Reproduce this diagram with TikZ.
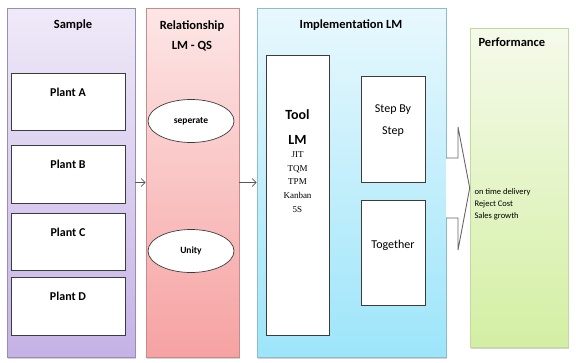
\documentclass[tikz,border=0pt]{standalone}
\usepackage{fontspec}
\setmainfont{Carlito}
\newfontfamily\serifnum{Liberation Serif}
\usetikzlibrary{positioning,shapes.geometric,shadows,arrows.meta}

\definecolor{samTop}{HTML}{EFEAF8}
\definecolor{samBot}{HTML}{C5B2E6}
\definecolor{samLine}{HTML}{9A8DB3}
\definecolor{relTop}{HTML}{FDE6E6}
\definecolor{relBot}{HTML}{F6A2A2}
\definecolor{relLine}{HTML}{C88A8A}
\definecolor{impTop}{HTML}{E8F8FD}
\definecolor{impBot}{HTML}{9DE5FA}
\definecolor{impLine}{HTML}{8CBCCC}
\definecolor{perTop}{HTML}{F5FAEA}
\definecolor{perBot}{HTML}{D3EFA3}
\definecolor{perLine}{HTML}{C2D8A0}
\definecolor{boxLine}{HTML}{3C3C3C}

\begin{document}
\begin{tikzpicture}[
    x=1pt, y=-1pt,
    panel/.style      = {rectangle, draw, line width=0.6pt, inner sep=0pt,
                         drop shadow={shadow xshift=1.2pt, shadow yshift=-1.6pt,
                                      opacity=0.35}},
    whitebox/.style   = {rectangle, draw=boxLine, fill=white, line width=0.7pt,
                         inner sep=0pt},
    oval/.style       = {ellipse, draw=boxLine, fill=white, line width=0.7pt,
                         minimum width=86pt, minimum height=43pt, inner sep=0pt,
                         font=\fontsize{9.5}{11}\selectfont\bfseries},
    head/.style       = {font=\fontsize{12.5}{20}\selectfont\bfseries, align=center},
    plantlbl/.style   = {font=\fontsize{12}{14}\selectfont\bfseries},
    toollbl/.style    = {font=\fontsize{14}{16}\selectfont\bfseries},
    toollist/.style   = {font=\serifnum\fontsize{9}{13.7}\selectfont, align=center,
                         inner sep=0pt},
    plain/.style      = {font=\fontsize{12}{22}\selectfont, align=center},
    flow/.style       = {-{Straight Barb[length=4pt, width=8pt]},
                         draw=gray!70!black, line width=0.7pt},
    blockarr/.style   = {draw=gray!80!black, fill=white, line width=0.9pt,
                         line join=miter},
]
\useasboundingbox (0,0) rectangle (576,362);

% ============================================================
%  PANELS
%   sample : x 7..135     relation : x 146..239
%   impl   : x 257..446   perf     : x 470..568
% ============================================================
\node[panel, draw=samLine, top color=samTop, bottom color=samBot,
      minimum width=128pt, minimum height=349pt] (sample) at (71,182.5) {};
\node[panel, draw=relLine, top color=relTop, bottom color=relBot,
      minimum width=93pt, minimum height=349pt] (relation) at (192.5,182.5) {};
\node[panel, draw=impLine, top color=impTop, bottom color=impBot,
      minimum width=189pt, minimum height=349pt] (impl) at (351.5,182.5) {};
\node[panel, draw=perLine, top color=perTop, bottom color=perBot,
      minimum width=98pt, minimum height=319pt] (perf) at (519,187.5) {};

% ----------------------------------------------------------
%  SAMPLE  -  four plants
% ----------------------------------------------------------
\node[head] (sampleH) at (73,25) {Sample};

\node[whitebox, minimum width=114pt, minimum height=57pt] (plantA) at (68,101.5) {};
\node[plantlbl] (plantAtxt) at ([yshift=-20pt]plantA.north) {Plant A};

\node[whitebox, minimum width=114pt, minimum height=58pt] (plantB) at (68,174) {};
\node[plantlbl] (plantBtxt) at ([yshift=-20pt]plantB.north) {Plant B};

\node[whitebox, minimum width=114pt, minimum height=57pt] (plantC) at (68,241.5) {};
\node[plantlbl] (plantCtxt) at ([yshift=-20pt]plantC.north) {Plant C};

\node[whitebox, minimum width=114pt, minimum height=58pt] (plantD) at (68,306) {};
\node[plantlbl] (plantDtxt) at ([yshift=-20pt]plantD.north) {Plant D};

% ----------------------------------------------------------
%  RELATIONSHIP LM - QS  -  two ovals
% ----------------------------------------------------------
\node[head] (relationH) at (192,36) {Relationship\\LM - QS};
\node[oval] (separate) at (191,121) {seperate};
\node[oval] (unity) at (191,251) {Unity};

% ----------------------------------------------------------
%  IMPLEMENTATION LM  -  tools, step by step / together
% ----------------------------------------------------------
\node[head] (implH) at (351,25) {Implementation LM};

\node[whitebox, minimum width=63pt, minimum height=280pt] (tool) at (297.5,195) {};
\node[toollbl] (tooltxt) at (297.5,115) {Tool};
\node[toollbl] (lmtxt) at (297.5,140) {LM};
\node[toollist, anchor=north] (toollst) at (297.5,151.5)
    {JIT\\TQM\\TPM\\Kanban\\5S};

\node[whitebox, minimum width=64pt, minimum height=106pt] (stepbox) at (393,129) {};
\node[plain] (steptxt) at (393,121) {Step By\\Step};

\node[whitebox, minimum width=64pt, minimum height=105pt] (together) at (393,252.5) {};
\node[plain] (togethertxt) at (393,245) {Together};

% ----------------------------------------------------------
%  PERFORMANCE
% ----------------------------------------------------------
\node[font=\fontsize{12.5}{14}\selectfont\bfseries, anchor=west] (perfH)
    at (475,42) {Performance};
\node[font=\fontsize{8.5}{12}\selectfont, align=left, anchor=west] (perftxt)
    at (471,204) {on time delivery\\Reject Cost\\Sales growth};

% ============================================================
%  CONNECTORS
% ============================================================
\draw[flow] (sample.east) -- (relation.west);
\draw[flow] (relation.east) -- (impl.west);

% hollow block arrow  impl -> perf
\coordinate (shaftT) at (446,158);
\coordinate (shaftB) at (446,218);
\coordinate (tip) at (perf.west |- 0,188);
\draw[blockarr] (shaftT) -- (458,158) -- (458,127) -- (tip)
    -- (458,250) -- (458,218) -- (shaftB);

\end{tikzpicture}
\end{document}
